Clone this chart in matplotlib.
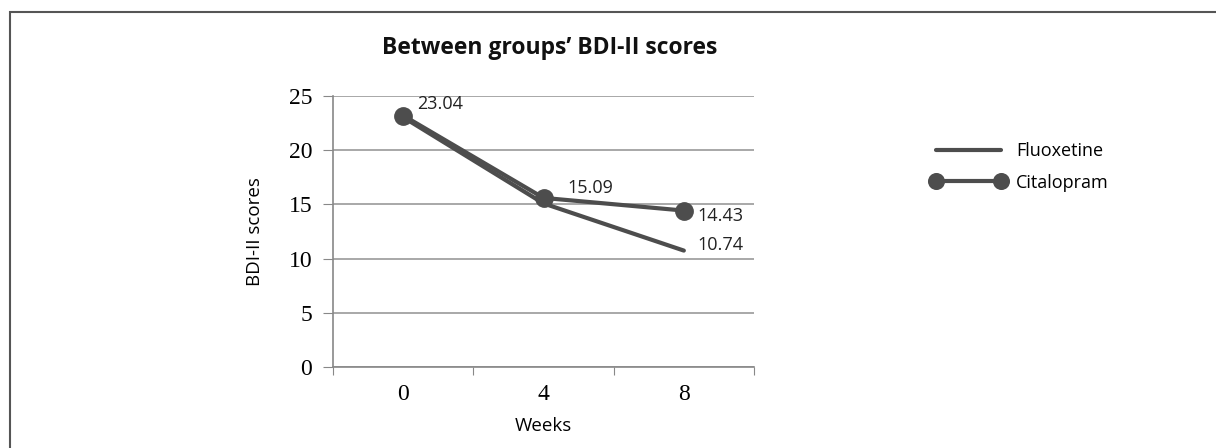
import matplotlib.pyplot as plt
from matplotlib.patches import Rectangle

weeks = ['0', '4', '8']
fluoxetine = [23.04, 15.09, 10.74]
citalopram = [23.2, 15.6, 14.43]
labels = [('23.04', 0, 23.2), ('15.09', 1, 15.6), ('14.43', 2, 14.43), ('10.74', 2, 10.74)]

sans = ['Open Sans', 'DejaVu Sans']
serif = ['Liberation Serif', 'DejaVu Serif']
col = '#4d4d4d'

fig = plt.figure(figsize=(12.16, 4.48), dpi=100)
fig.patches.append(Rectangle((10 / 1216, -0.1), 1.2, 1 - 12 / 448 + 0.1,
                             transform=fig.transFigure, fill=False,
                             edgecolor='#555555', lw=1.5, clip_on=False))
ax = fig.add_axes([333 / 1216, 1 - 367 / 448, 421 / 1216, 271 / 448])

x = range(len(weeks))
ax.plot(x, fluoxetine, color=col, lw=3, solid_capstyle='round', label='Fluoxetine')
ax.plot(x, citalopram, color=col, lw=3, marker='o', ms=12.5, label='Citalopram')

offsets = [(10, 8), (17, 7), (10, -4), (10, 4)]
for (txt, i, v), off in zip(labels, offsets):
    ax.annotate(txt, (i, v), xytext=off, textcoords='offset points',
                fontsize=13, family=sans, color='#222222', va='center')

ax.set_xlim(-0.5, 2.5)
ax.set_ylim(0, 25)
ax.set_yticks(range(0, 26, 5))
ax.set_xticks([-0.5, 0.5, 1.5, 2.5])
ax.set_xticklabels([])
ax.set_xticks(list(x), minor=True)
ax.set_xticklabels(weeks, minor=True, family=serif, fontsize=17)
ax.tick_params(axis='x', which='minor', length=0, pad=12)
ax.tick_params(axis='x', which='major', length=6, color='#888888')
ax.tick_params(axis='y', length=7, color='#888888', labelsize=17, pad=8)
for t in ax.get_yticklabels():
    t.set_family(serif)
ax.grid(axis='y', color='#999999', lw=1.2)
ax.set_axisbelow(True)
for s in ['top', 'right']:
    ax.spines[s].set_visible(False)
for s in ['left', 'bottom']:
    ax.spines[s].set_color('#888888')
    ax.spines[s].set_linewidth(1.2)

ax.set_xlabel('Weeks', family=sans, fontsize=13.5, labelpad=9)
ax.set_ylabel('BDI-II scores', family=sans, fontsize=13.5, labelpad=18)
fig.text(550 / 1216, 1 - 48 / 448, 'Between groups\u2019 BDI-II scores',
         family=sans, fontsize=16.5, weight='bold', ha='center', va='center',
         color='#111111')

fig.legend(loc='upper left', bbox_to_anchor=(922 / 1216, 1 - 133 / 448),
           frameon=False, handlelength=4.2, handletextpad=0.5,
           labelspacing=0.75, numpoints=2, borderpad=0,
           markerscale=0.9, prop={'family': sans, 'size': 13})

fig.savefig('out.png', dpi=100)
